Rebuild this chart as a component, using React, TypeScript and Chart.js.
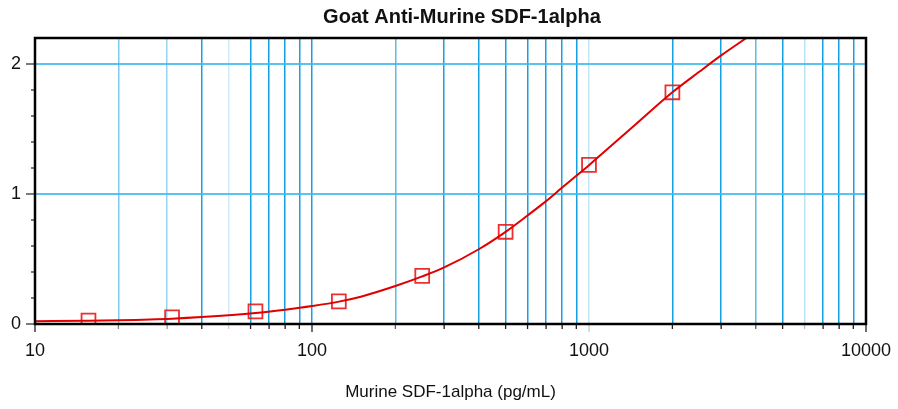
import React, { useEffect, useRef } from 'react';
import { Chart, registerables } from 'chart.js';

Chart.register(...registerables);

const TITLE = 'Goat Anti-Murine SDF-1alpha';
const X_LABEL = 'Murine SDF-1alpha (pg/mL)';

// Standards (pg/mL) and measured OD
const STD_CONC = [15.6, 31.25, 62.5, 125, 250, 500, 1000, 2000];
const STD_OD = [0.027, 0.052, 0.097, 0.174, 0.37, 0.709, 1.224, 1.782];

// Fitted curve
const CURVE_CONC = [10, 15.6, 20, 31.25, 40, 62.5, 80, 100, 125, 150, 200, 250, 300, 400, 500, 600, 700, 800, 900, 1000, 1500, 2000, 2500, 3000, 3700];
const CURVE_OD = [0.021, 0.025, 0.029, 0.041, 0.053, 0.084, 0.11, 0.138, 0.172, 0.21, 0.292, 0.366, 0.435, 0.575, 0.709, 0.835, 0.945, 1.05, 1.14, 1.222, 1.55, 1.782, 1.94, 2.066, 2.2];

const X_TICKS = [10, 20, 30, 40, 50, 60, 70, 80, 90, 100, 200, 300, 400, 500, 600, 700, 800, 900, 1000, 2000, 3000, 4000, 5000, 6000, 7000, 8000, 9000, 10000];
const X_LABELED = [10, 100, 1000, 10000];
const Y_TICKS = [0, 0.2, 0.4, 0.6, 0.8, 1, 1.2, 1.4, 1.6, 1.8, 2];
const Y_LABELED = [0, 1, 2];

// grid line intensity (mimics reference rendering)
const X_ALPHA: Record<number, number> = { 20: 0.55, 30: 0.45, 50: 0.2, 200: 0.7, 1000: 0.25, 4000: 0.7, 6000: 0.3 };

const FONT = '"Liberation Sans", Arial, Helvetica, sans-serif';

const decorPlugin = {
  id: 'decor',
  afterDraw(chart: any) {
    const { ctx, chartArea } = chart;
    const { left, top, right, bottom } = chartArea;
    const x = chart.scales.x;
    const y = chart.scales.y;
    ctx.save();
    X_TICKS.forEach((v) => {
      const px = x.getPixelForValue(v);
      const major = X_LABELED.includes(v);
      const a = X_ALPHA[v] ?? 1;
      ctx.strokeStyle = `rgba(30,30,30,${a})`;
      ctx.lineWidth = 1.3;
      ctx.beginPath();
      ctx.moveTo(px, bottom);
      ctx.lineTo(px, bottom + (major ? 8 : 5));
      ctx.stroke();
    });
    Y_TICKS.forEach((v) => {
      const py = y.getPixelForValue(v);
      const major = Y_LABELED.includes(v);
      ctx.strokeStyle = 'rgba(30,30,30,0.9)';
      ctx.lineWidth = 1.3;
      ctx.beginPath();
      ctx.moveTo(left, py);
      ctx.lineTo(left - (major ? 9 : 4), py);
      ctx.stroke();
    });
    ctx.strokeStyle = '#000';
    ctx.lineWidth = 2.5;
    ctx.strokeRect(left, top, right - left, bottom - top);
    ctx.font = `bold 20px ${FONT}`;
    ctx.fillStyle = '#111';
    ctx.textAlign = 'center';
    ctx.textBaseline = 'middle';
    ctx.fillText(TITLE, 462, 17);
    ctx.restore();
  },
};

export default function App() {
  const ref = useRef<HTMLCanvasElement | null>(null);

  useEffect(() => {
    if (!ref.current) return;
    const chart = new Chart(ref.current, {
      type: 'scatter',
      data: {
        datasets: [
          {
            label: 'curve',
            data: CURVE_CONC.map((c, i) => ({ x: c, y: CURVE_OD[i] })),
            showLine: true,
            borderColor: '#e00000',
            borderWidth: 2,
            pointRadius: 0,
            cubicInterpolationMode: 'monotone',
            order: 1,
          } as any,
          {
            label: 'standards',
            data: STD_CONC.map((c, i) => ({ x: c, y: STD_OD[i] })),
            showLine: false,
            pointStyle: 'rect',
            pointRadius: 9.8,
            borderColor: 'rgba(232,25,25,0.9)',
            borderWidth: 1.8,
            backgroundColor: 'rgba(0,0,0,0)',
            order: 2,
          } as any,
        ],
      },
      options: {
        animation: false,
        responsive: false,
        layout: { padding: { top: 38, right: 32, left: 0, bottom: 0 } },
        plugins: {
          legend: { display: false },
          title: { display: false },
          tooltip: { enabled: false },
        },
        scales: {
          x: {
            type: 'logarithmic',
            min: 10,
            max: 10000,
            position: 'bottom',
            afterFit: (s: any) => { s.height = 85; s.paddingLeft = 0; s.paddingRight = 0; },
            afterBuildTicks: (s: any) => { s.ticks = X_TICKS.map((v) => ({ value: v })); },
            border: { display: false },
            grid: {
              drawTicks: false,
              lineWidth: 1.5,
              color: (c: any) => `rgba(20,160,225,${X_ALPHA[c.tick?.value] ?? 1})`,
            },
            ticks: {
              autoSkip: false,
              maxRotation: 0,
              padding: 16,
              color: '#111',
              font: { family: FONT, size: 18 },
              callback: (v: any) => (X_LABELED.includes(Number(v)) ? String(v) : ''),
            },
            title: {
              display: true,
              text: X_LABEL,
              color: '#111',
              font: { family: FONT, size: 17 },
              padding: { top: 4, bottom: 6 },
            },
          },
          y: {
            type: 'linear',
            min: 0,
            max: 2.2,
            afterFit: (s: any) => { s.width = 35; s.paddingTop = 0; s.paddingBottom = 0; },
            afterBuildTicks: (s: any) => { s.ticks = Y_TICKS.map((v) => ({ value: v })); },
            border: { display: false },
            grid: {
              drawTicks: false,
              lineWidth: 2,
              color: (c: any) => (c.tick && (c.tick.value === 1 || c.tick.value === 2) ? 'rgba(60,185,240,0.85)' : 'rgba(0,0,0,0)'),
            },
            ticks: {
              autoSkip: false,
              padding: 14,
              color: '#111',
              font: { family: FONT, size: 18 },
              callback: (v: any) => (Y_LABELED.includes(Number(v)) ? String(v) : ''),
            },
          },
        },
      },
      plugins: [decorPlugin],
    });
    return () => chart.destroy();
  }, []);

  return (
    <div style={{ position: 'fixed', left: 0, top: 0, width: 898, height: 409, background: '#fff' }}>
      <canvas ref={ref} width={898} height={409} style={{ display: 'block' }} />
    </div>
  );
}
